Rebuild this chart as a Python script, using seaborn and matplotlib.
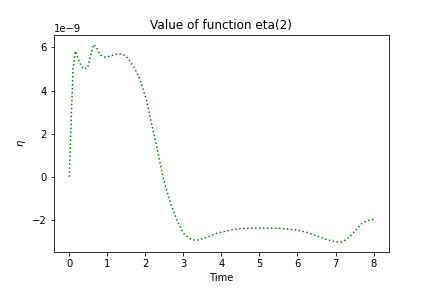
import matplotlib
matplotlib.use("Agg")
import matplotlib.pyplot as plt
import seaborn as sns
import pandas as pd

time = [0.0, 0.05, 0.1, 0.16, 0.22, 0.3, 0.38, 0.48, 0.56, 0.64, 0.72, 0.8, 0.86, 0.95, 1.08, 1.25, 1.35, 1.47, 1.6, 1.73, 1.86, 2.04, 2.14, 2.3, 2.48, 2.65, 2.83, 3.0, 3.18, 3.33, 3.48, 3.7, 3.88, 4.23, 4.57, 5.0, 5.5, 6.0, 6.25, 6.5, 6.75, 7.0, 7.15, 7.3, 7.5, 7.7, 7.85, 8.0]
eta = [0.0, 2.5, 5.0, 5.83, 5.55, 5.2, 5.0, 5.05, 5.6, 6.14, 6.0, 5.7, 5.6, 5.55, 5.6, 5.7, 5.7, 5.63, 5.36, 5.0, 4.51, 3.5, 2.65, 1.41, -0.14, -1.15, -2.0, -2.62, -2.88, -2.96, -2.88, -2.75, -2.62, -2.47, -2.39, -2.38, -2.39, -2.47, -2.58, -2.74, -2.9, -3.02, -3.03, -2.9, -2.54, -2.15, -2.02, -1.97]

df = pd.DataFrame({"Time": time, "eta": [v * 1e-9 for v in eta]})

fig, ax = plt.subplots(figsize=(6, 4), dpi=72)
fig.subplots_adjust(left=0.125, right=0.9, top=0.88, bottom=0.125)
sns.lineplot(data=df, x="Time", y="eta", color="green", linestyle=":", ax=ax)
ax.set_title("Value of function eta(2)")
ax.set_xlabel("Time")
ax.set_ylabel(r"$\eta$")
fig.savefig("out.png", dpi=72)
